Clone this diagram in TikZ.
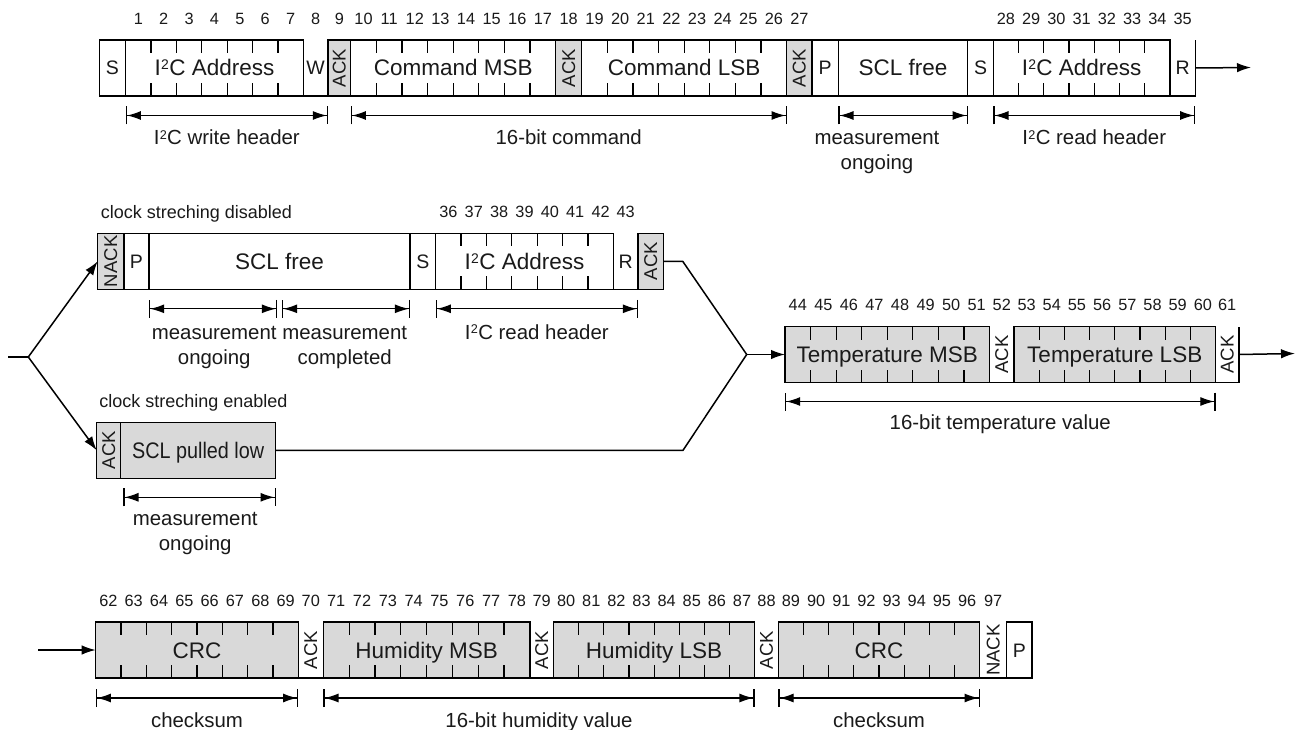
\documentclass[tikz,border=0pt]{standalone}
\usepackage{fontspec}
\setmainfont{Liberation Sans}
\usepackage{graphicx}
\usetikzlibrary{arrows.meta,calc}
\definecolor{cellgray}{HTML}{D9D9D9}
\definecolor{txt}{HTML}{1A1A1A}
\newcommand\cel[6]{\node[cell,#5,minimum width={#3pt-#2pt},anchor=north west] (#1) at (#2,#4) {#6};}
\newcommand\opencel[6]{\node[cell,draw=none,#5,minimum width={#3pt-#2pt},anchor=north west] (#1) at (#2,#4) {#6};
  \draw[boxline] (#1.north west) -- (#1.south west) -- (#1.south east) -- (#1.north east);}
\newcommand\bitticks[2]{\pgfmathtruncatemacro\mm{#2-1}\foreach \k in {1,...,\mm}{%
  \pgfmathsetmacro\ff{\k/#2}%
  \draw[tk] ($(#1.north west)!\ff!(#1.north east)$) -- ++(0,13);
  \draw[tk] ($(#1.south west)!\ff!(#1.south east)$) -- ++(0,-13);}}
\newcommand\nums[3]{\foreach \k in {1,...,#3}{%
  \pgfmathtruncatemacro\nn{#2+\k-1}\pgfmathsetmacro\ff{(\k-0.5)/#3}%
  \node[num] at ($(#1.north west)!\ff!(#1.north east)+(0,-21.5)$) {\nn};}}
\newcommand\ACK{\rotatebox{90}{ACK}}
\newcommand\NACK{\rotatebox{90}{NACK}}
\newcommand\Isq{I\kern0.3pt\raisebox{0.27em}{\scalebox{0.62}{2}}\kern0.3pt C}
\begin{document}
\begin{tikzpicture}[x=1pt,y=-1pt,
  boxline/.style={draw=black,line width=1.5pt},
  cell/.style={draw=black,line width=1.5pt,fill=white,inner sep=0pt,outer sep=0pt,minimum height=56pt,text=txt},
  grayc/.style={fill=cellgray},
  big/.style={font=\fontsize{22.5}{27}\selectfont,text height=16pt,text depth=0pt},
  letr/.style={font=\fontsize{19.5}{22}\selectfont,text height=14pt,text depth=0pt},
  ack/.style={font=\fontsize{18.5}{22}\selectfont},
  num/.style={font=\fontsize{16.3}{18}\selectfont,text=txt,inner sep=0pt,text height=11.7pt,text depth=0pt},
  labone/.style={font=\fontsize{20.4}{25}\selectfont,text=txt,inner sep=0pt,text height=14.6pt,text depth=0pt},
  labtwo/.style={font=\fontsize{20.4}{25}\selectfont,text=txt,inner sep=0pt,align=center},
  smalllab/.style={font=\fontsize{18}{22}\selectfont,text=txt,inner sep=0pt,anchor=west,text height=13pt,text depth=0pt},
  dimln/.style={line width=1.2pt,{Bar[width=18pt]Latex[length=14pt,width=9pt]}-{Latex[length=14pt,width=9pt]Bar[width=18pt]}},
  conn/.style={line width=1.5pt},
  arr/.style={conn,-{Latex[length=14pt,width=9.5pt]}},
  tk/.style={line width=1.2pt}]
\fill[white] (0,0) rectangle (1298,730);
\useasboundingbox (0,0) rectangle (1298,730);
% ---------- row 1
\cel{s1}{99.3}{125.7}{40}{letr}{S}
\cel{a1}{125.7}{303.3}{40}{big}{\Isq{} Address}
\opencel{w1}{303.3}{328}{40}{letr}{W}
\cel{k1}{328}{350.7}{40}{ack,grayc}{\ACK}
\cel{cm}{350.7}{555.7}{40}{big}{Command MSB}
\cel{k2}{555.7}{581.7}{40}{ack,grayc}{\ACK}
\cel{cl}{581.7}{786.7}{40}{big}{Command LSB}
\cel{k3}{786.7}{812}{40}{ack,grayc}{\ACK}
\cel{p1}{812}{838.3}{40}{letr}{P}
\cel{f1}{838.3}{967.7}{40}{big}{SCL free}
\cel{s2}{967.7}{993.3}{40}{letr}{S}
\cel{a2}{993.3}{1170}{40}{big}{\Isq{} Address}
\opencel{r1}{1170}{1195.3}{40}{letr}{R}
\bitticks{a1}{7}\bitticks{cm}{8}\bitticks{cl}{8}\bitticks{a2}{7}
\nums{a1}{1}{7}\nums{w1}{8}{1}\nums{k1}{9}{1}\nums{cm}{10}{8}\nums{k2}{18}{1}
\nums{cl}{19}{8}\nums{k3}{27}{1}\nums{a2}{28}{7}\nums{r1}{35}{1}
\coordinate (o1) at (1251,67.5);
\draw[arr] (r1.east) -- (o1);
\draw[dimln] ([yshift=-19.5pt]a1.south west) -- ([yshift=-19.5pt]k1.south west);
\draw[dimln] ([yshift=-19.5pt]cm.south west) -- ([yshift=-19.5pt]k3.south west);
\draw[dimln] ([yshift=-19.5pt]f1.south west) -- ([yshift=-19.5pt]f1.south east);
\draw[dimln] ([yshift=-19.5pt]a2.south west) -- ([yshift=-19.5pt]r1.south east);
\node[labone] at ($(a1.south west)!0.5!(k1.south west)+(0,41.5)$) {\Isq{} write header};
\node[labone] at ($(cm.south west)!0.5!(k3.south west)+(0,41.5)$) {16-bit command};
\node[labtwo] at ($(f1.south)+(-26,57)$) {measurement\\ongoing};
\node[labone] at ($(a2.south west)!0.5!(r1.south east)+(0,41.5)$) {\Isq{} read header};
% ---------- row 2 (clock stretching disabled)
\cel{n2}{97.7}{124}{233.3}{ack,grayc}{\NACK}
\cel{p2}{124}{149}{233.3}{letr}{P}
\cel{f2}{149}{410}{233.3}{big}{SCL free}
\cel{s3}{410}{435.7}{233.3}{letr}{S}
\cel{a3}{435.7}{613.3}{233.3}{big}{\Isq{} Address}
\opencel{r2}{613.3}{638}{233.3}{letr}{R}
\cel{k4}{638}{663.3}{233.3}{ack,grayc}{\ACK}
\bitticks{a3}{7}
\nums{a3}{36}{7}\nums{r2}{43}{1}
\node[smalllab] at ([xshift=3pt,yshift=21pt]n2.north west) {clock streching disabled};
\draw[dimln] ([yshift=-19.5pt]f2.south west) -- ($(f2.south)+(-2.5,19.5)$);
\draw[dimln] ($(f2.south)+(2.5,19.5)$) -- ([yshift=-19.5pt]f2.south east);
\draw[dimln] ([yshift=-19.5pt]a3.south west) -- ([yshift=-19.5pt]k4.south west);
\node[labtwo] at ($(f2.south west)!0.25!(f2.south east)+(0,58)$) {measurement\\ongoing};
\node[labtwo] at ($(f2.south west)!0.75!(f2.south east)+(0,58)$) {measurement\\completed};
\node[labone] at ($(a3.south west)!0.5!(k4.south west)+(0,42.5)$) {\Isq{} read header};
% ---------- row 2b (clock stretching enabled)
\cel{k5}{96.7}{120.7}{422.3}{ack,grayc}{\ACK}
\cel{pl}{120.7}{275.7}{422.3}{big,grayc}{\scalebox{0.88}[1]{SCL pulled low}}
\node[smalllab] at ([xshift=2.5pt,yshift=21pt]k5.north west) {clock streching enabled};
\draw[dimln] ([xshift=2.6pt,yshift=-19pt]pl.south west) -- ([yshift=-19pt]pl.south east);
\node[labtwo] at ($(pl.south west)!0.5!(pl.south east)+(-3,55.5)$) {measurement\\ongoing};
% ---------- branches
\coordinate (in) at (8,357);
\coordinate (j1) at (28.3,357);
\draw[conn] (in) -- (j1);
\draw[arr] (j1) -- (n2.west);
\draw[arr] (j1) -- (k5.west);
% ---------- row 3 (temperature)
\cel{tm}{785}{989.5}{326.5}{big,grayc}{Temperature MSB}
\opencel{k6}{989.5}{1014}{326.5}{ack}{\ACK}
\cel{tl}{1014}{1215.5}{326.5}{big,grayc}{Temperature LSB}
\opencel{k7}{1215.5}{1238.8}{326.5}{ack}{\ACK}
\bitticks{tm}{8}\bitticks{tl}{8}
\nums{tm}{44}{8}\nums{k6}{52}{1}\nums{tl}{53}{8}\nums{k7}{61}{1}
\coordinate (j2) at (746.7,354.5);
\draw[conn] (k4.east) -- ++(19.4,0) -- (j2);
\draw[conn] (pl.east) -- ++(407.3,0) -- (j2);
\draw[arr] (j2) -- (tm.west);
\coordinate (o3) at (1295,353.5);
\draw[arr] (k7.east) -- (o3);
\draw[dimln] ([yshift=-19pt]tm.south west) -- ([yshift=-19pt]k7.south west);
\node[labone] at ($(tm.south west)!0.5!(k7.south west)+(0,40)$) {16-bit temperature value};
% ---------- row 4 (humidity)
\cel{c1}{95.7}{298.3}{622}{big,grayc}{CRC}
\opencel{k8}{298.3}{323.3}{622}{ack}{\ACK}
\cel{hm}{323.3}{529.8}{622}{big,grayc}{Humidity MSB}
\opencel{k9}{529.8}{553.6}{622}{ack}{\ACK}
\cel{hl}{553.6}{754.6}{622}{big,grayc}{Humidity LSB}
\opencel{k10}{754.6}{778.4}{622}{ack}{\ACK}
\cel{c2}{778.4}{979.7}{622}{big,grayc}{CRC}
\opencel{nk}{979.7}{1006.6}{622}{ack}{\NACK}
\cel{p4}{1006.6}{1032}{622}{letr}{P}
\bitticks{c1}{8}\bitticks{hm}{8}\bitticks{hl}{8}\bitticks{c2}{8}
\nums{c1}{62}{8}\nums{k8}{70}{1}\nums{hm}{71}{8}\nums{k9}{79}{1}
\nums{hl}{80}{8}\nums{k10}{88}{1}\nums{c2}{89}{8}\nums{nk}{97}{1}
\coordinate (i4) at (38.3,650);
\draw[arr] (i4) -- (c1.west);
\draw[dimln] ([yshift=-20pt]c1.south west) -- ([yshift=-20pt]k8.south west);
\draw[dimln] ([yshift=-20pt]hm.south west) -- ([yshift=-20pt]k10.south west);
\draw[dimln] ([yshift=-20pt]c2.south west) -- ([yshift=-20pt]nk.south west);
\node[labone] at ($(c1.south west)!0.5!(k8.south west)+(0,42)$) {checksum};
\node[labone] at ($(hm.south west)!0.5!(k10.south west)+(0,42)$) {16-bit humidity value};
\node[labone] at ($(c2.south west)!0.5!(nk.south west)+(0,42)$) {checksum};
\end{tikzpicture}
\end{document}
